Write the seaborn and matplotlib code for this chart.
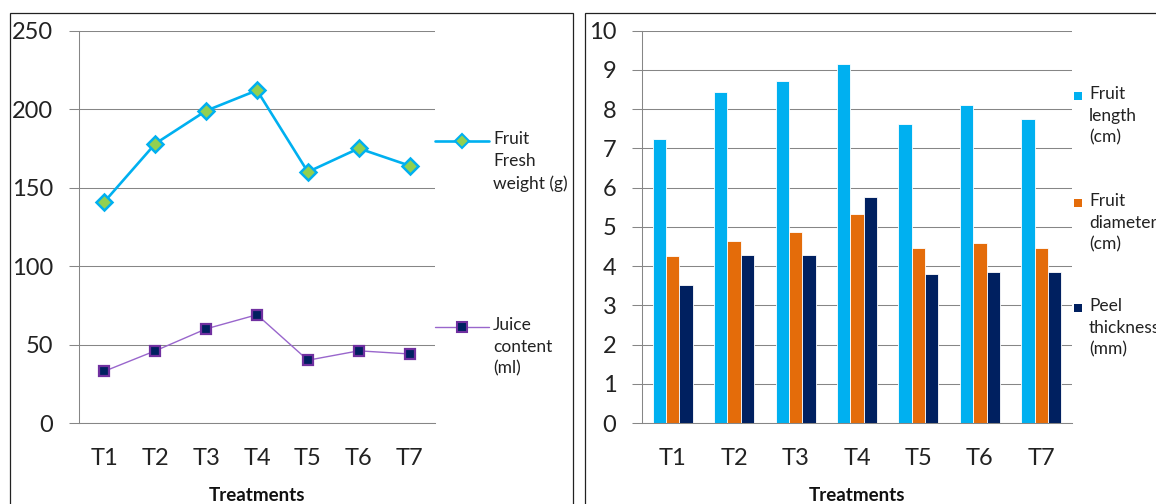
import pandas as pd
import matplotlib.pyplot as plt
import seaborn as sns
from matplotlib.lines import Line2D
from matplotlib.patches import Rectangle

sns.set_theme(style="white")
plt.rcParams['font.family'] = ['Lato', 'DejaVu Sans']

# datos
treatments = ["T1", "T2", "T3", "T4", "T5", "T6", "T7"]
fresh_weight = [141, 178, 199, 212, 160, 175, 164]
juice_content = [33, 46, 60, 69, 40, 46, 44]

fruit_length = [7.24, 8.44, 8.71, 9.15, 7.61, 8.10, 7.74]
fruit_diameter = [4.26, 4.63, 4.86, 5.33, 4.46, 4.59, 4.46]
peel_thickness = [3.52, 4.29, 4.29, 5.75, 3.79, 3.85, 3.85]

bar_names = ["Fruit\nlength\n(cm)", "Fruit\ndiameter\n(cm)", "Peel\nthickness\n(mm)"]
bar_colors = ["#00B0F0", "#E46C0A", "#002060"]

GRID = "#868686"
W, H = 1156, 504


def px(x, y):
    # pixel -> coordenadas de figura
    return x / W, 1 - y / H


def style_axes(ax, ymax, ystep):
    ax.set_ylim(0, ymax)
    ax.set_yticks(range(0, ymax + 1, ystep))
    ax.set_xlim(-0.5, 6.5)
    ax.set_xticks(range(7))
    ax.set_xticklabels(treatments)
    ax.set_xticks([i - 0.5 for i in range(8)], minor=True)
    ax.tick_params(axis="x", which="major", length=0, pad=18, labelsize=17, labelcolor="#222222")
    ax.tick_params(axis="x", which="minor", length=6.5, width=0.75, color=GRID, direction="out")
    ax.tick_params(axis="y", length=7.5, width=0.75, color=GRID, direction="out", pad=11,
                   labelsize=17, labelcolor="#222222", left=True)
    ax.yaxis.grid(True, color=GRID, linewidth=0.75)
    ax.xaxis.grid(False)
    ax.set_axisbelow(True)
    for side in ["top", "right"]:
        ax.spines[side].set_visible(False)
    for side in ["left", "bottom"]:
        ax.spines[side].set_color(GRID)
        ax.spines[side].set_linewidth(0.75)
    ax.set_xlabel("Treatments", fontsize=13.5, fontweight="bold", labelpad=13, color="#111111")
    ax.set_ylabel("")


def legend_text(x, cap_top, label):
    tx, ty = px(x, cap_top - 4)
    fig.text(tx, ty, label, fontsize=12.5, va="top", ha="left", linespacing=1.45,
             color="#222222")


fig = plt.figure(figsize=(W / 100, H / 100), dpi=100)

# marcos de cada panel
fig.add_artist(Rectangle(px(10, 560), 563 / W, 547 / H, transform=fig.transFigure,
                         fill=False, ec="#222222", lw=0.9))
fig.add_artist(Rectangle(px(585, 560), 600 / W, 547 / H, transform=fig.transFigure,
                         fill=False, ec="#222222", lw=0.9))

# ---- panel izquierdo: lineas ----
x0, y0 = px(79, 423)
ax1 = fig.add_axes([x0, y0, 356 / W, (423 - 30.7) / H])
sns.lineplot(x=treatments, y=fresh_weight, ax=ax1, color="#00B0F0", linewidth=1.9, sort=False,
             marker="D", markersize=8.5, markerfacecolor="#92D050", markeredgecolor="#00B0F0",
             markeredgewidth=1.8)
sns.lineplot(x=treatments, y=juice_content, ax=ax1, color="#9966CC", linewidth=1.0, sort=False,
             marker="s", markersize=6.5, markerfacecolor="#002060", markeredgecolor="#7030A0",
             markeredgewidth=1.6)
style_axes(ax1, 250, 50)

# leyenda manual (marcador alineado con la primera linea, como en Excel)
line_entries = [
    ("Fruit\nFresh\nweight (g)", 141, 135, dict(color="#00B0F0", lw=1.9, marker="D", ms=7,
                                               mfc="#92D050", mec="#00B0F0", mew=1.5)),
    ("Juice\ncontent\n(ml)", 327, 321, dict(color="#9966CC", lw=1.0, marker="s", ms=6.5,
                                          mfc="#002060", mec="#7030A0", mew=1.5)),
]
for label, ly, cap_top, kw in line_entries:
    xa, ya = px(435, ly)
    xb, _ = px(489, ly)
    fig.add_artist(Line2D([xa, (xa + xb) / 2, xb], [ya, ya, ya], transform=fig.transFigure,
                          markevery=[1], **kw))
    legend_text(493, cap_top, label)

# ---- panel derecho: barras ----
df = pd.DataFrame({
    "Treatment": treatments * 3,
    "Value": fruit_length + fruit_diameter + peel_thickness,
    "Measure": [bar_names[0]] * 7 + [bar_names[1]] * 7 + [bar_names[2]] * 7,
})
x0, y0 = px(642, 423)
ax2 = fig.add_axes([x0, y0, 430 / W, (423 - 30.7) / H])
sns.barplot(data=df, x="Treatment", y="Value", hue="Measure", palette=bar_colors, ax=ax2,
            width=0.65, saturation=1, edgecolor="white", linewidth=0.6, legend=False)
style_axes(ax2, 10, 1)

for label, cap_top, color in zip(bar_names, [90, 197, 302], bar_colors):
    sx, sy = px(1074, cap_top + 10)
    fig.add_artist(Rectangle((sx, sy), 8 / W, 8 / H, transform=fig.transFigure,
                             fc=color, ec="none"))
    legend_text(1089, cap_top, label)

fig.savefig("out.png", dpi=100)
plt.close(fig)
